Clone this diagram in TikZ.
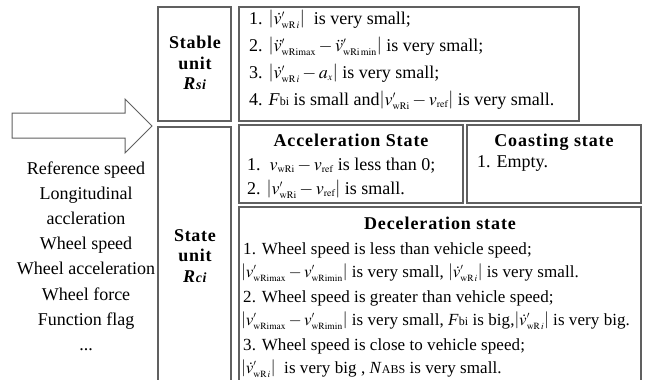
\documentclass[tikz,border=0pt]{standalone}
\usepackage{amsmath}
\usepackage{mathptmx}
\usepackage{fontspec}
\setmainfont{Liberation Serif}
\DeclareMathSizes{18}{18}{10}{8}
\DeclareMathSizes{17}{17}{9.5}{7.5}
\newcommand{\sbs}[1]{\mathrm{#1}}
\newcommand{\smallsub}[1]{{\fontsize{12}{12}\selectfont #1}}
\tikzset{
  box/.style={draw=gray!75!black, line width=1.1pt},
  txt/.style={anchor=base west, inner sep=0pt, font=\fontsize{18}{22}\selectfont},
  dtxt/.style={anchor=base west, inner sep=0pt, font=\fontsize{17}{21}\selectfont\addfontfeature{LetterSpace=0.5}},
  ttl/.style={anchor=base, inner sep=0pt, font=\fontsize{18}{22}\selectfont\bfseries\addfontfeature{LetterSpace=5}},
  lbl/.style={anchor=center, inner sep=0pt, align=center, font=\fontsize{18}{20.5}\selectfont\bfseries\addfontfeature{LetterSpace=4}},
  col/.style={anchor=base, inner sep=0pt, font=\fontsize{18}{22}\selectfont}
}
\begin{document}
\begin{tikzpicture}[x=1pt,y=-1pt]
\useasboundingbox (0,0) rectangle (648,380);
\clip (0,0) rectangle (648,380);
% arrow
\draw[draw=gray!75!black, line width=1pt, line join=miter]
  (12,113) -- (125,113) -- (125,99) -- (152,126) -- (125,153) -- (125,138) -- (12,138) -- cycle;
% boxes
\draw[box] (158,7) rectangle (231,121);
\draw[box] (239,7) rectangle (579,121);
\draw[box] (158,127) rectangle (231,400);
\draw[box] (239,125) rectangle (463,203);
\draw[box] (467,125) rectangle (641,203);
\draw[box] (239,207) rectangle (641,400);
% unit labels
\node[lbl] (stable) at (195,63) {Stable\\unit\\\textit{R}{\fontsize{14}{14}\selectfont\textit{si}}};
\node[lbl] (state) at (195,256) {State\\unit\\\textit{R}{\fontsize{14}{14}\selectfont\textit{ci}}};
% input column
\node[col] (in1) at (86,174) {Reference speed};
\node[col] (in2) at (86,199) {Longitudinal};
\node[col] (in3) at (86,224) {accleration};
\node[col] (in4) at (86,249) {Wheel speed};
\node[col] (in5) at (86,274) {Wheel acceleration};
\node[col] (in6) at (86,300) {Wheel force};
\node[col] (in7) at (86,325) {Function flag};
\node[col] (in8) at (86,350) {...};
% stable conditions
\node[txt] (s1) at (249,24) {1. $\left|\dot{v}'_{\sbs{wR}\,i}\right|$\ \ is very small;};
\node[txt] (s2) at (249,51) {2. $\left|\ddot{v}'_{\sbs{wRimax}}-\ddot{v}'_{\sbs{wRi\,min}}\right|$ is very small;};
\node[txt] (s3) at (249,78) {3. $\left|\dot{v}'_{\sbs{wR}\,i}-a_x\right|$\ is very small;};
\node[txt] (s4) at (249,105) {4. \textit{F}\smallsub{bi} is small and$\left|v'_{\sbs{wRi}}-v_{\sbs{ref}}\right|$ is very small.};
% acceleration
\node[ttl] (acct) at (351,146) {Acceleration State};
\node[txt] (a1) at (247,170) {1.\ \ $v_{\sbs{wRi}}-v_{\sbs{ref}}$\ is less than 0;};
\node[txt] (a2) at (247,194) {2. $\left|v'_{\sbs{wRi}}-v_{\sbs{ref}}\right|$ is small.};
% coasting
\node[ttl] (coat) at (554,146) {Coasting state};
\node[txt] (c1) at (477,167) {1. Empty.};
% deceleration
\node[ttl] (dect) at (440,229) {Deceleration state};
\node[dtxt] (d1) at (243,254) {1. Wheel speed is less than vehicle speed;};
\node[dtxt] (d1b) at (241,277) {$\left|v'_{\sbs{wRimax}}-v'_{\sbs{wRimin}}\right|$ is very small, $\left|\dot{v}'_{\sbs{wR}\,i}\right|$ is very small.};
\node[dtxt] (d2) at (243,302) {2. Wheel speed is greater than vehicle speed;};
\node[dtxt] (d2b) at (241,325) {$\left|v'_{\sbs{wRimax}}-v'_{\sbs{wRimin}}\right|$ is very small, \textit{F}\smallsub{bi} is big,$\left|\dot{v}'_{\sbs{wR}\,i}\right|$ is very big.};
\node[dtxt] (d3) at (243,350) {3. Wheel speed is close to vehicle speed;};
\node[dtxt] (d3b) at (241,373) {$\left|\dot{v}'_{\sbs{wR}\,i}\right|$\ \ is very big , \textit{N}\smallsub{ABS} is very small.};
\end{tikzpicture}
\end{document}
